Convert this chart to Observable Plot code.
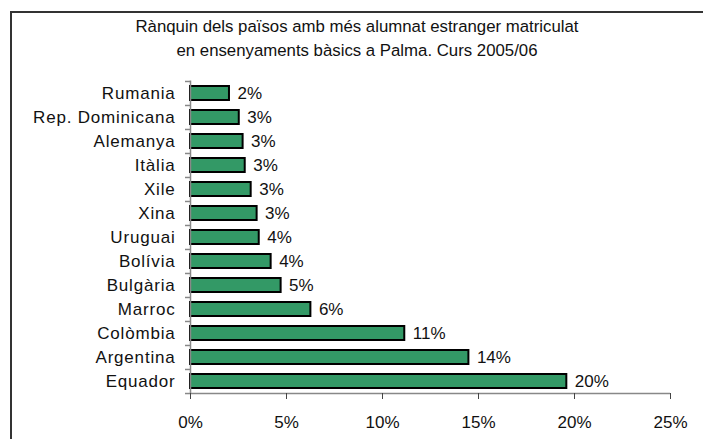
<!DOCTYPE html>
<html>
<head>
<meta charset="utf-8">
<script src="https://cdn.jsdelivr.net/npm/d3@7"></script>
<script src="https://cdn.jsdelivr.net/npm/@observablehq/plot@0.6"></script>
<style>
  html, body { margin: 0; padding: 0; background: #fff; overflow: hidden; }
  #wrap { position: relative; width: 703px; height: 439px; font-family: "Liberation Sans", Arial, sans-serif; }
  #frame { position: absolute; left: 10px; top: 11px; width: 720px; height: 460px; border: 2px solid #333; box-sizing: border-box; }
  #title { position: absolute; left: 0; top: 15px; width: 714px; text-align: center; font-size: 16.8px; line-height: 24px; color: #111; }
  #chart { position: absolute; left: 0; top: 0; }
  #chart svg text { font-family: "Liberation Sans", Arial, sans-serif; }
</style>
</head>
<body>
<div id="wrap">
  <div id="frame"></div>
  <div id="title">Rànquin dels països amb més alumnat estranger matriculat<br>en ensenyaments bàsics a Palma. Curs 2005/06</div>
  <div id="chart"></div>
</div>
<script>
const countries = ["Rumania", "Rep. Dominicana", "Alemanya", "Itàlia", "Xile", "Xina", "Uruguai", "Bolívia", "Bulgària", "Marroc", "Colòmbia", "Argentina", "Equador"];
const shares = [2.03, 2.54, 2.74, 2.85, 3.16, 3.47, 3.58, 4.2, 4.72, 6.27, 11.16, 14.5, 19.6];
const shareLabels = ["2%", "3%", "3%", "3%", "3%", "3%", "4%", "4%", "5%", "6%", "11%", "14%", "20%"];
const xTicks = [0, 5, 10, 15, 20, 25];

const data = countries.map((c, i) => ({country: c, value: shares[i], label: shareLabels[i]}));

const W = 703, H = 439;
const mTop = 80.5, mBottom = 46, mLeft = 190, mRight = 33;
const step = (H - mTop - mBottom) / countries.length;
const tickLen = 5 * 25 / (W - mLeft - mRight); // 5px in x units

const plot = Plot.plot({
  width: W,
  height: H,
  marginTop: mTop,
  marginBottom: mBottom,
  marginLeft: mLeft,
  marginRight: mRight,
  style: {fontSize: "17px", background: "transparent", color: "#111"},
  x: {domain: [0, 25], axis: null},
  y: {domain: countries, paddingInner: 0.4, paddingOuter: 0.2, axis: null},
  marks: [
    Plot.barX(data, {y: "country", x: "value", fill: "#339966", stroke: "#000", strokeWidth: 2}),
    // y axis line
    Plot.ruleX([0], {stroke: "#888", strokeWidth: 1.5}),
    // category boundary ticks
    Plot.ruleY(countries, {y: d => d, x1: -tickLen, x2: 0, dy: -step / 2, stroke: "#888", strokeWidth: 1.5}),
    Plot.ruleY([countries[countries.length - 1]], {y: d => d, x1: -tickLen, x2: 0, dy: step / 2, stroke: "#888", strokeWidth: 1.5}),
    // category labels
    Plot.text(countries, {y: d => d, x: 0, text: d => d, textAnchor: "end", dx: -15, fontSize: 17, fill: "#111"}),
    // value labels
    Plot.text(data, {y: "country", x: "value", text: "label", textAnchor: "start", dx: 8, fontSize: 17, fill: "#111"}),
    // x axis
    Plot.ruleY([countries[countries.length - 1]], {y: d => d, x1: 0, x2: 25, dy: step / 2, stroke: "#888", strokeWidth: 1.5}),
    Plot.axisX({ticks: xTicks, tickFormat: d => d + "%", tickSize: 6, tickPadding: 16, stroke: "#444", fontSize: 17, fill: "#111", label: null})
  ]
});
const names = new Set(countries);
plot.querySelectorAll("text").forEach(t => {
  if (names.has(t.textContent)) t.style.letterSpacing = "0.8px";
});
document.getElementById("chart").appendChild(plot);
</script>
</body>
</html>
